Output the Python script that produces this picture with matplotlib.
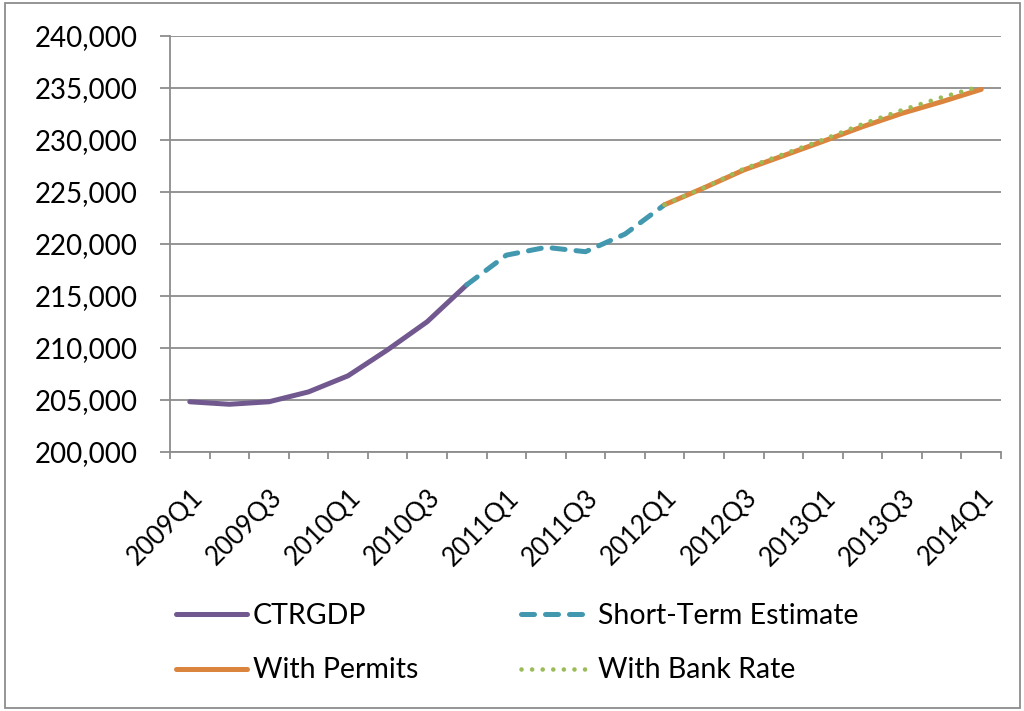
import numpy as np
import matplotlib
matplotlib.use("Agg")
import matplotlib.pyplot as plt
from matplotlib.patches import Rectangle
from matplotlib.transforms import ScaledTranslation

quarters = [f"{y}Q{q}" for y in range(2009, 2014) for q in range(1, 5)] + ["2014Q1"]

# CTRGDP: 2009Q1 - 2010Q4
ctrgdp = [204800, 204560, 204800, 205750, 207300, 209800, 212500, 216050]
# Short-term estimate: 2010Q4 - 2012Q1
short_term = [216050, 218900, 219650, 219230, 220930, 223750]
# Forecasts: 2012Q1 - 2014Q1
with_permits = [223750, 225380, 227090, 228460, 229840, 231250, 232540, 233650, 234840]
with_bank_rate = [223750, 225400, 227200, 228600, 230000, 231500, 232850, 234070, 235160]

yticks = np.arange(200000, 240001, 5000)

plt.rcParams['font.family'] = ['Lato', 'DejaVu Sans']
FS = 20

fig = plt.figure(figsize=(10.24, 7.11), dpi=100)
ax = fig.add_axes([170/1024, 1 - 451.7/711, 831/1024, (451.7 - 35.7)/711])

x = np.arange(len(quarters))
l1, = ax.plot(x[0:8], ctrgdp, color='#71588F', lw=3.6, solid_capstyle='round',
              label='CTRGDP', zorder=3)
l2, = ax.plot(x[7:13], short_term, color='#4198AF', lw=3.6, dashes=(2.6, 2.2),
              dash_capstyle='round', label='Short-Term Estimate', zorder=4)
l3, = ax.plot(x[12:21], with_permits, color='#DB843D', lw=3.6, solid_capstyle='round',
              label='With Permits', zorder=5)
l4, = ax.plot(x[12:21], with_bank_rate, color='#9BBB59', lw=3.3, dashes=(0.01, 2.3),
              dash_capstyle='round', label='With Bank Rate', zorder=6)

ax.set_xlim(-0.5, len(quarters) - 0.5)
ax.set_ylim(200000, 240000)

ax.set_yticks(yticks)
ax.set_yticklabels([f"{v:,}" for v in yticks], fontsize=FS)
ax.yaxis.grid(True, color='#8C8C8C', lw=1.3)
ax.set_axisbelow(True)

ax.set_xticks(x[::2])
ax.set_xticklabels(quarters[::2], fontsize=18.5, rotation=45, ha='right', va='top',
                   rotation_mode='anchor')
ax.set_xticks(np.arange(-0.5, len(quarters)), minor=True)
ax.tick_params(axis='x', which='major', length=0, pad=24)
ax.tick_params(axis='x', which='minor', length=5, width=1.3, color='#8C8C8C')
ax.tick_params(axis='y', length=7.2, width=1.3, color='#8C8C8C', pad=16)
for lab in ax.get_xticklabels():
    lab.set_transform(lab.get_transform() + ScaledTranslation(0.0, 0, fig.dpi_scale_trans))

for s in ['top', 'right']:
    ax.spines[s].set_visible(False)
for s in ['left', 'bottom']:
    ax.spines[s].set_color('#8C8C8C')
    ax.spines[s].set_linewidth(1.3)

# row-wise order: CTRGDP | Short-Term, With Permits | With Bank Rate
fig.legend([l1, l3, l2, l4], [l1.get_label(), l3.get_label(), l2.get_label(), l4.get_label()],
           loc='upper left', bbox_to_anchor=(176/1024, 1 - 603/711), ncol=2,
           frameon=False, fontsize=20.5, handlelength=2.5, handletextpad=0.2,
           columnspacing=3.6, labelspacing=1.0, borderpad=0, borderaxespad=0)

fig.patches.append(Rectangle((5/1024, 1 - 708/711), 1015/1024, 705/711,
                             transform=fig.transFigure, fill=False,
                             edgecolor='#8C8C8C', lw=1.3))

fig.savefig('out.png', dpi=100)
